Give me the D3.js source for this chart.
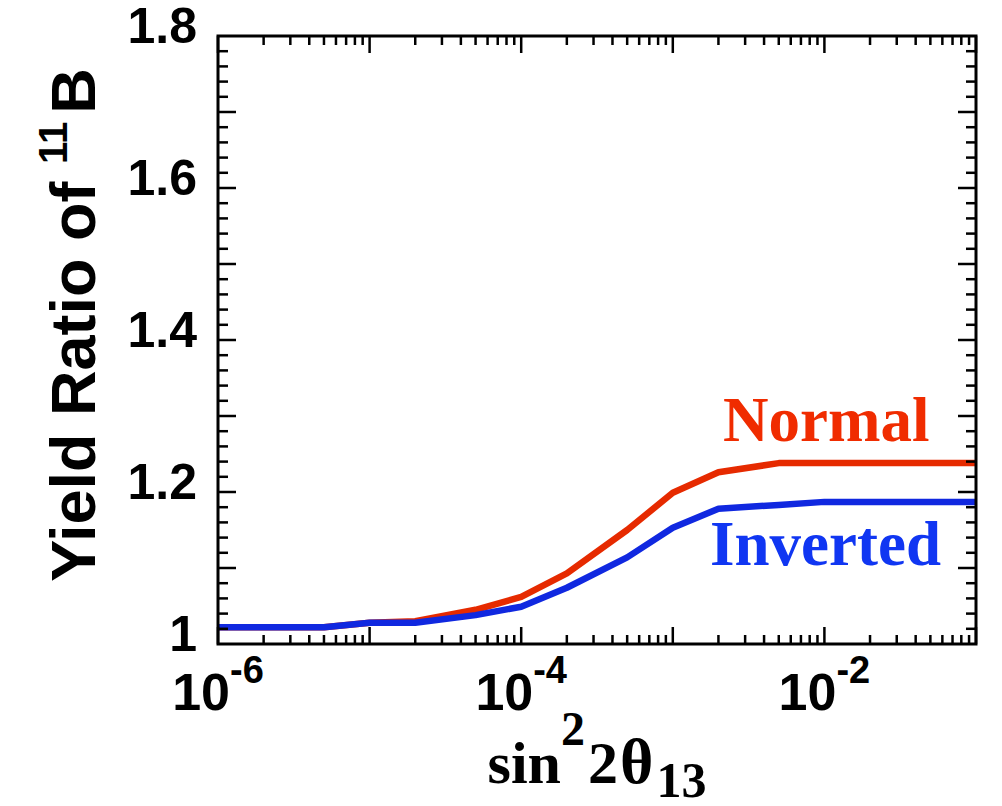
<!DOCTYPE html>
<html>
<head>
<meta charset="utf-8">
<script src="https://cdn.jsdelivr.net/npm/d3@7"></script>
<style>
  html, body { margin: 0; padding: 0; background: #fff; }
  svg { display: block; }
</style>
</head>
<body>
<svg id="chart" width="1002" height="806"></svg>
<script>
// sin^2(2θ13) sample points
const mixing = [1e-6, 2e-6, 5e-6, 1e-5, 2e-5, 5e-5, 1e-4, 2e-4, 5e-4, 1e-3, 2e-3, 5e-3, 1e-2, 2e-2, 5e-2, 1e-1];
// 11B yield ratio, normal mass hierarchy
const normalRatio = [1.022, 1.022, 1.022, 1.028, 1.030, 1.045, 1.062, 1.093, 1.150, 1.199, 1.226, 1.238, 1.238, 1.238, 1.238, 1.238];
// 11B yield ratio, inverted mass hierarchy
const invertedRatio = [1.022, 1.022, 1.022, 1.028, 1.028, 1.038, 1.049, 1.074, 1.114, 1.153, 1.178, 1.183, 1.187, 1.187, 1.187, 1.187];
// labelled ticks
const xTickLabels = [{ v: 1e-6, exp: "-6" }, { v: 1e-4, exp: "-4" }, { v: 1e-2, exp: "-2" }];
const yTickLabels = [1.0, 1.2, 1.4, 1.6, 1.8];
const seriesNames = ["Normal", "Inverted"];

const svg = d3.select("#chart");
const plotL = 218, plotR = 976, plotT = 36, plotB = 644;

const x = d3.scaleLog().domain([1e-6, 1e-1]).range([plotL, plotR]);
const y = d3.scaleLinear().domain([1.0, 1.8]).range([plotB, plotT]);

const sans = "'Liberation Sans', Arial, Helvetica, sans-serif";
const serif = "'Liberation Serif', 'Times New Roman', Times, serif";

// data curves
const line = d3.line().x(d => x(d[0])).y(d => y(d[1]));
const series = [
  { name: seriesNames[0], values: normalRatio, stroke: "#e62a00", text: "#f02c00", lx: 723, ly: 441 },
  { name: seriesNames[1], values: invertedRatio, stroke: "#1028e0", text: "#1036f2", lx: 710, ly: 565 }
];
svg.append("defs").append("clipPath").attr("id", "plotclip")
  .append("rect").attr("x", plotL).attr("y", plotT).attr("width", plotR - plotL).attr("height", plotB - plotT);

series.forEach(s => {
  svg.append("path")
    .datum(mixing.map((m, i) => [m, s.values[i]]))
    .attr("d", line)
    .attr("fill", "none")
    .attr("stroke", s.stroke)
    .attr("stroke-width", 6.5)
    .attr("stroke-linejoin", "round")
    .attr("clip-path", "url(#plotclip)");
  svg.append("text")
    .attr("x", s.lx).attr("y", s.ly)
    .attr("font-family", serif).attr("font-weight", "bold")
    .attr("font-size", 63)
    .attr("fill", s.text)
    .text(s.name);
});

// ticks, drawn inward on all four sides
const ticks = svg.append("g").attr("stroke", "#000").attr("stroke-width", 2.5);
const xMinor = [];
for (let e = -6; e < -1; e++) for (let k = 2; k <= 9; k++) xMinor.push(k * Math.pow(10, e));
const xMajor = x.ticks().filter(v => Math.abs(Math.log10(v) - Math.round(Math.log10(v))) < 1e-9);
const yMinor = d3.range(1.02, 1.8, 0.02).filter(v => Math.abs(v * 10 - Math.round(v * 10)) > 1e-6);
const yMajor = d3.range(1.1, 1.75, 0.1);

function xTick(v, len) {
  ticks.append("line").attr("x1", x(v)).attr("x2", x(v)).attr("y1", plotB).attr("y2", plotB - len);
  ticks.append("line").attr("x1", x(v)).attr("x2", x(v)).attr("y1", plotT).attr("y2", plotT + len);
}
function yTick(v, len) {
  ticks.append("line").attr("y1", y(v)).attr("y2", y(v)).attr("x1", plotL).attr("x2", plotL + len);
  ticks.append("line").attr("y1", y(v)).attr("y2", y(v)).attr("x1", plotR).attr("x2", plotR - len);
}
xMinor.forEach(v => xTick(v, 9));
xMajor.forEach(v => xTick(v, 17));
yMinor.forEach(v => yTick(v, 10));
yMajor.forEach(v => yTick(v, 18));

// frame
svg.append("rect")
  .attr("x", plotL).attr("y", plotT).attr("width", plotR - plotL).attr("height", plotB - plotT)
  .attr("fill", "none").attr("stroke", "#000").attr("stroke-width", 3);

// y tick labels
svg.append("g").selectAll("text").data(yTickLabels).join("text")
  .attr("x", 197).attr("y", d => y(d) + 7)
  .attr("text-anchor", "end")
  .attr("font-family", sans).attr("font-weight", "bold").attr("font-size", 50)
  .text(d => d === 1 ? "1" : d3.format(".1f")(d));

// x tick labels: 10 with superscript exponent
const xl = svg.append("g").selectAll("text").data(xTickLabels).join("text")
  .attr("x", d => x(d.v)).attr("y", 710)
  .attr("text-anchor", "middle")
  .attr("font-family", sans).attr("font-weight", "bold").attr("font-size", 52);
xl.append("tspan").text("10");
xl.append("tspan").attr("dy", -27).attr("font-size", 38).text(d => d.exp);

// x axis title: sin²2θ13
const xt = svg.append("text")
  .attr("x", 597).attr("y", 783)
  .attr("text-anchor", "middle")
  .attr("font-family", serif).attr("font-weight", "bold").attr("font-size", 60);
xt.append("tspan").text("sin");
xt.append("tspan").attr("dy", -38).attr("font-size", 48).text("2");
xt.append("tspan").attr("dy", 38).attr("dx", 3).text("2");
xt.append("tspan").attr("dx", 2).attr("font-size", 64).text("θ");
xt.append("tspan").attr("dy", 14).attr("dx", 3).attr("font-size", 50).text("13");

// y axis title: Yield Ratio of ¹¹B
const yt = svg.append("text")
  .attr("transform", "translate(95,325) rotate(-90)")
  .attr("text-anchor", "middle")
  .attr("font-family", sans).attr("font-weight", "bold").attr("font-size", 63);
yt.append("tspan").text("Yield Ratio of ");
yt.append("tspan").attr("dy", -28).attr("font-size", 40).text("11");
yt.append("tspan").attr("dy", 28).attr("dx", 8).text("B");
</script>
</body>
</html>
